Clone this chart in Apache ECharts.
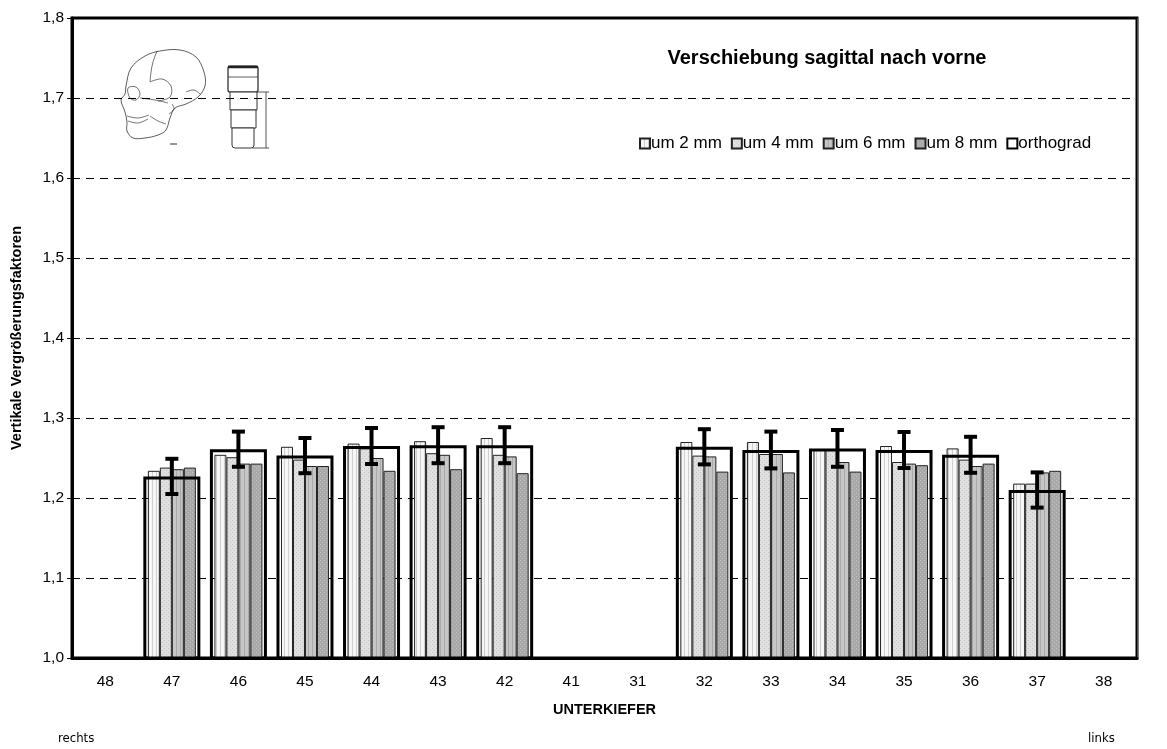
<!DOCTYPE html>
<html lang="de">
<head>
<meta charset="UTF-8">
<title>Verschiebung sagittal nach vorne</title>
<script src="https://cdn.jsdelivr.net/npm/echarts@6/dist/echarts.min.js"></script>
<style>
  html, body { margin: 0; padding: 0; background: #fff; }
  #main { width: 1167px; height: 749px; }
</style>
</head>
<body>
<div id="main"></div>
<script>
// Zähne: rechts 48..41, links 31..38
var teeth = ['48', '47', '46', '45', '44', '43', '42', '41', '31', '32', '33', '34', '35', '36', '37', '38'];
var yTicks = [1.0, 1.1, 1.2, 1.3, 1.4, 1.5, 1.6, 1.7, 1.8];

var um2 = [null, 1.234, 1.254, 1.264, 1.268, 1.271, 1.275, null, null, 1.270, 1.270, 1.261, 1.265, 1.262, 1.218, null];
var um4 = [null, 1.238, 1.251, 1.248, 1.262, 1.256, 1.254, null, null, 1.253, 1.255, 1.260, 1.245, 1.248, 1.218, null];
var um6 = [null, 1.236, 1.243, 1.240, 1.250, 1.254, 1.252, null, null, 1.252, 1.255, 1.245, 1.243, 1.240, 1.232, null];
var um8 = [null, 1.238, 1.243, 1.240, 1.234, 1.236, 1.231, null, null, 1.233, 1.232, 1.233, 1.241, 1.243, 1.234, null];
var orthograd = [null, 1.227, 1.261, 1.253, 1.265, 1.266, 1.266, null, null, 1.264, 1.260, 1.262, 1.260, 1.254, 1.210, null];
var sd = [null, 0.022, 0.022, 0.022, 0.0225, 0.0225, 0.0225, null, null, 0.022, 0.023, 0.023, 0.0225, 0.0225, 0.022, null];

var schrift = 'Liberation Sans, Arial, sans-serif';

// kleine Rastermuster wie in Excel
function muster(base, dot, art) {
    var c = document.createElement('canvas');
    c.width = 4; c.height = 4;
    var g = c.getContext('2d');
    g.fillStyle = base;
    g.fillRect(0, 0, 4, 4);
    g.fillStyle = dot;
    if (art === 'v') {
        g.fillRect(0, 0, 1, 4);
    } else {
        g.fillRect(0, 0, 1, 1);
        g.fillRect(2, 2, 1, 1);
    }
    return { image: c, repeat: 'repeat' };
}

var fehler = [];
orthograd.forEach(function (v, i) {
    if (v != null) fehler.push([i, v, sd[i]]);
});

var chart = echarts.init(document.getElementById('main'));

function balken(name, data, fill) {
    return {
        name: name,
        type: 'bar',
        xAxisIndex: 0,
        data: data,
        barWidth: 12,
        barGap: '0%',
        itemStyle: { color: fill, borderColor: '#222', borderWidth: 1 }
    };
}

// Skizze oben links (Schädel + Messkörper)
function strich(pts, closed, w) {
    return {
        type: closed ? 'polygon' : 'polyline', silent: true,
        shape: { points: pts, smooth: 0.35 },
        style: { fill: closed ? '#fff' : null, stroke: '#333', lineWidth: w || 0.7 }
    };
}
var skizze = [
    strich([[126, 86], [131, 68], [145, 56], [160, 51], [180, 50], [196, 57], [204, 72], [205, 86], [198, 97], [186, 104], [175, 108], [170, 118], [166, 130], [158, 135], [145, 138], [133, 138], [127, 131], [127, 122], [125, 112], [121, 100], [125, 94]], true, 0.8),
    strich([[157, 51], [153, 62], [151, 72], [150, 82]]),
    strich([[128, 88], [136, 87], [140, 94], [136, 100], [130, 98]], true),
    strich([[140, 98], [155, 100], [168, 103]]),
    strich([[150, 82], [162, 79], [171, 86], [170, 97], [158, 101]]),
    strich([[172, 104], [174, 109], [169, 114]]),
    strich([[127, 116], [138, 118], [149, 115]]),
    strich([[128, 121], [138, 123], [148, 119]]),
    strich([[186, 92], [194, 90], [201, 95]]),
    strich([[150, 116], [158, 121], [166, 124]]),
    { type: 'line', silent: true, shape: { x1: 170, y1: 144, x2: 177, y2: 144 }, style: { stroke: '#333', lineWidth: 1 } },
    { type: 'rect', silent: true, shape: { x: 228, y: 66, width: 30, height: 26, r: 2 }, style: { fill: '#fff', stroke: '#222', lineWidth: 1.2 } },
    { type: 'line', silent: true, shape: { x1: 228, y1: 67, x2: 258, y2: 67 }, style: { stroke: '#222', lineWidth: 2.5 } },
    { type: 'line', silent: true, shape: { x1: 228, y1: 77, x2: 258, y2: 77 }, style: { stroke: '#333', lineWidth: 0.8 } },
    { type: 'rect', silent: true, shape: { x: 230, y: 92, width: 27, height: 18 }, style: { fill: '#fff', stroke: '#333', lineWidth: 1 } },
    { type: 'rect', silent: true, shape: { x: 231, y: 110, width: 25, height: 18 }, style: { fill: '#fff', stroke: '#333', lineWidth: 1 } },
    { type: 'rect', silent: true, shape: { x: 232, y: 128, width: 22, height: 20, r: [0, 0, 3, 3] }, style: { fill: '#fff', stroke: '#333', lineWidth: 1 } },
    { type: 'line', silent: true, shape: { x1: 257, y1: 92, x2: 269, y2: 92 }, style: { stroke: '#555', lineWidth: 1 } },
    { type: 'line', silent: true, shape: { x1: 252, y1: 148, x2: 269, y2: 148 }, style: { stroke: '#555', lineWidth: 1 } },
    { type: 'line', silent: true, shape: { x1: 266, y1: 92, x2: 266, y2: 148 }, style: { stroke: '#555', lineWidth: 1 } },
    {
        type: 'text', left: 58, top: 732,
        style: { text: 'rechts', fontSize: 13, fontFamily: 'DejaVu Sans Condensed, DejaVu Sans', fill: '#000' }
    },
    {
        type: 'text', left: 1088, top: 732,
        style: { text: 'links', fontSize: 13, fontFamily: 'DejaVu Sans Condensed, DejaVu Sans', fill: '#000' }
    }
];

var option = {
    animation: false,
    backgroundColor: '#fff',
    textStyle: { fontFamily: schrift, color: '#000' },
    grid: {
        left: 72, right: 30, top: 18, bottom: 91,
        show: true, borderColor: '#000', borderWidth: 3
    },
    title: {
        text: 'Verschiebung sagittal nach vorne',
        left: 822, top: 43, textAlign: 'center',
        textStyle: { fontSize: 20, fontWeight: 'bold', fontFamily: schrift, color: '#000' }
    },
    legend: {
        left: 634, top: 130,
        icon: 'rect',
        itemWidth: 10, itemHeight: 10, itemGap: 9,
        textStyle: { fontSize: 17, fontFamily: schrift, color: '#000', padding: [0, 0, 0, -4] },
        data: ['um 2 mm', 'um 4 mm', 'um 6 mm', 'um 8 mm', 'orthograd']
    },
    xAxis: [{
        type: 'category',
        data: teeth,
        name: 'UNTERKIEFER',
        nameLocation: 'middle',
        nameGap: 44,
        nameTextStyle: { fontSize: 14.5, fontWeight: 'bold', color: '#000', fontFamily: schrift },
        axisLine: { lineStyle: { color: '#000', width: 3 } },
        axisTick: { length: 6, lineStyle: { color: '#000' } },
        axisLabel: { fontSize: 15.5, margin: 16, color: '#000', fontFamily: schrift },
        splitLine: {
            show: true,
            interval: function (index) { return index === 8; },
            lineStyle: { color: '#444', width: 1 }
        }
    }, {
        type: 'category',
        data: teeth,
        show: false
    }],
    yAxis: {
        type: 'value',
        min: 1.0, max: 1.8, interval: 0.1,
        name: 'Vertikale Vergrößerungsfaktoren',
        nameLocation: 'middle',
        nameGap: 48,
        nameTextStyle: { fontSize: 14.5, fontWeight: 'bold', color: '#000', fontFamily: schrift },
        axisLine: { show: true, lineStyle: { color: '#000', width: 3 } },
        axisTick: { show: true, length: 5, lineStyle: { color: '#000' } },
        axisLabel: {
            fontSize: 15.5, margin: 8, color: '#000', fontFamily: schrift,
            formatter: function (v) {
                var t = yTicks.find(function (k) { return Math.abs(k - v) < 1e-6; });
                return t == null ? '' : t.toFixed(1).replace('.', ',');
            }
        },
        splitLine: { lineStyle: { color: '#000', type: [8, 6], width: 1 } }
    },
    series: [
        balken('um 2 mm', um2, muster('#f6f6f6', '#cfcfcf', 'v')),
        balken('um 4 mm', um4, muster('#e0e0e0', '#c4c4c4', 'd')),
        balken('um 6 mm', um6, muster('#c6c6c6', '#a9a9a9', 'v')),
        balken('um 8 mm', um8, muster('#a9a9a9', '#c2c2c2', 'd')),
        {
            name: 'orthograd',
            type: 'bar',
            xAxisIndex: 1,
            data: orthograd,
            barWidth: 57,
            itemStyle: { color: 'rgba(255,255,255,0)', borderColor: '#000', borderWidth: 3 }
        },
        {
            name: 'sd',
            type: 'custom',
            xAxisIndex: 0,
            data: fehler,
            z: 10,
            renderItem: function (params, api) {
                var i = api.value(0), v = api.value(1), e = api.value(2);
                var oben = api.coord([i, v + e]);
                var unten = api.coord([i, v - e]);
                var st = { stroke: '#000', lineWidth: 4 };
                return {
                    type: 'group',
                    children: [
                        { type: 'line', shape: { x1: oben[0], y1: oben[1], x2: unten[0], y2: unten[1] }, style: st },
                        { type: 'line', shape: { x1: oben[0] - 6.5, y1: oben[1], x2: oben[0] + 6.5, y2: oben[1] }, style: st },
                        { type: 'line', shape: { x1: unten[0] - 6.5, y1: unten[1], x2: unten[0] + 6.5, y2: unten[1] }, style: st }
                    ]
                };
            }
        }
    ],
    graphic: skizze
};

chart.setOption(option);
</script>
</body>
</html>
